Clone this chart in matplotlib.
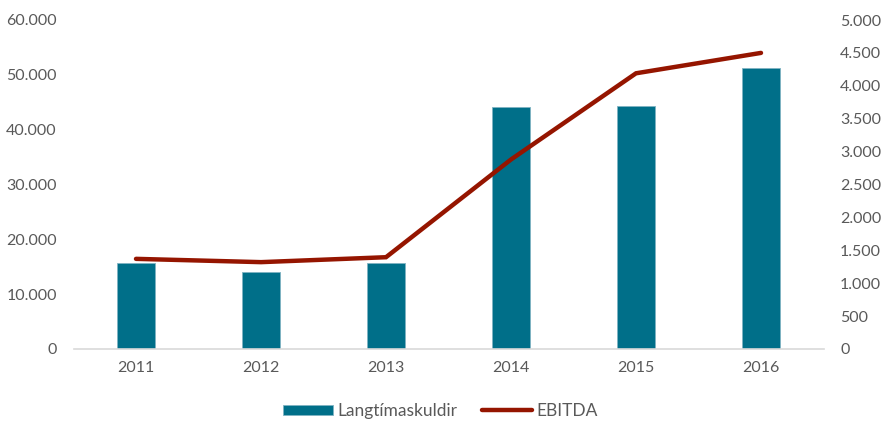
import numpy as np
import matplotlib
matplotlib.use('Agg')
import matplotlib.pyplot as plt
from matplotlib.ticker import FuncFormatter

years = ['2011', '2012', '2013', '2014', '2015', '2016']
langtima = [15700, 14000, 15700, 44200, 44300, 51300]
ebitda = [1370, 1320, 1395, 2880, 4190, 4500]

plt.rcParams['font.family'] = ['Lato', 'DejaVu Sans']
txt = '#595959'

def dotfmt(v, pos):
    return f"{int(round(v)):,}".replace(',', '.')

fig = plt.figure(figsize=(8.81, 4.21), dpi=100)
ax = fig.add_axes([73.5/881, 1-349/421, 750/881, 329/421])
ax2 = ax.twinx()

x = np.arange(len(years))
ax.bar(x, langtima, width=0.31, color='#006F89', edgecolor='#7fb3c2', linewidth=0.6,
       label='Langtímaskuldir', zorder=2)
ln, = ax2.plot(x, ebitda, color='#951500', lw=3.2, solid_capstyle='round',
               solid_joinstyle='miter', label='EBITDA', zorder=3)

ax.set_xlim(-0.5, 5.5)
ax.set_ylim(0, 60000)
ax.set_yticks(np.arange(0, 60001, 10000))
ax2.set_ylim(0, 5000)
ax2.set_yticks(np.arange(0, 5001, 500))
ax.yaxis.set_major_formatter(FuncFormatter(dotfmt))
ax2.yaxis.set_major_formatter(FuncFormatter(dotfmt))
ax.set_xticks(x)
ax.set_xticklabels(years)

for a in (ax, ax2):
    for s in a.spines.values():
        s.set_visible(False)
    a.tick_params(length=0, labelsize=11.5, labelcolor=txt)
ax.spines['bottom'].set_visible(True)
ax.spines['bottom'].set_color('#d9d9d9')
ax.spines['bottom'].set_linewidth(1.2)
ax.tick_params(axis='x', pad=9)
ax.tick_params(axis='y', pad=12)
ax2.tick_params(axis='y', pad=12)

h1, l1 = ax.get_legend_handles_labels()
fig.legend(h1 + [ln], l1 + ['EBITDA'], loc='center', bbox_to_anchor=(0.5, 1-411/421),
           ncol=2, frameon=False, fontsize=12.5, labelcolor=txt, handlelength=2.9,
           handleheight=0.5, columnspacing=1.4, handletextpad=0.25)

fig.savefig('out.png', dpi=100)
